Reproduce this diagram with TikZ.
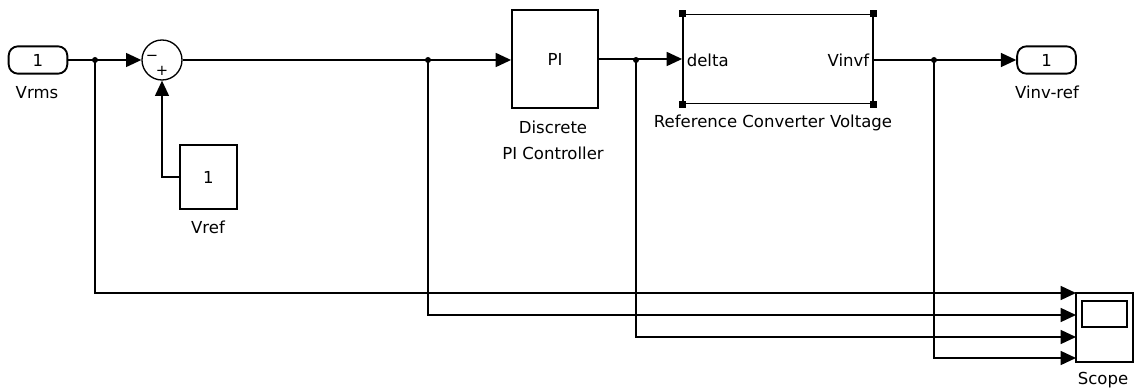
\documentclass[tikz,border=0pt]{standalone}
\usepackage{fontspec}
\setmainfont{DejaVu Sans}
\usetikzlibrary{arrows.meta, calc}

\begin{document}
\begin{tikzpicture}[x=0.75pt, y=-0.75pt, line width=1.1pt,
  font=\fontsize{12.4}{19.5}\selectfont,
  blk/.style={draw, line width=1.4pt, inner sep=0pt},
  port/.style={blk, rounded corners=7pt, minimum width=44pt, minimum height=20.5pt},
  sig/.style={-{Triangle[length=11.5pt, width=10.5pt]}},
  jdot/.style={fill, circle, inner sep=0pt, minimum size=4.5pt},
  lbl/.style={align=center, inner sep=0pt}]

  \useasboundingbox (0,0) rectangle (1136,392);

  % Inport and sum
  \node[port] (vrms) at (38,60) {1};
  \node[lbl] (vrmslbl) at (37,93) {Vrms};
  \node[draw, circle, line width=1pt, minimum size=30pt, inner sep=0pt] (sum) at (162,60) {};
  \node[lbl, font=\fontsize{11}{12}\selectfont] (sgnm) at (152,58) {−};
  \node[lbl, font=\fontsize{11}{12}\selectfont] (sgnp) at (162,71) {+};

  % Reference constant
  \node[blk, minimum width=43pt, minimum height=48pt] (vref) at (208.5,177) {1};
  \node[lbl] (vreflbl) at (208,227) {Vref};

  % Controller
  \node[blk, minimum width=64.5pt, minimum height=73.5pt] (pi) at (555,59) {PI};
  \node[lbl] (pilbl) at (553,140) {Discrete\\PI Controller};

  % Subsystem
  \node[blk, minimum width=142.5pt, minimum height=66.75pt] (ref) at (778,59) {};
  \foreach \c in {north west, north east, south west, south east}
    \fill (ref.\c) ++(-3.5,-3.5) rectangle ++(7,7);
  \node[lbl, anchor=west] (delta) at ($(ref.west)+(4,1)$) {delta};
  \node[lbl, anchor=east] (vinvf) at ($(ref.east)+(-4,1)$) {Vinvf};
  \node[lbl] (reflbl) at (773,123) {Reference Converter Voltage};

  % Outport
  \node[port] (vinv) at (1046.5,60) {1};
  \node[lbl] (vinvlbl) at (1047,92) {Vinv-ref};

  % Scope
  \node[blk, minimum width=43pt, minimum height=52pt] (scope) at (1104.5,327.5) {};
  \draw[line width=1.4pt] ($(scope.north west)+(7,9)$) rectangle ($(scope.north east)+(-7,35)$);
  \node[lbl] (scopelbl) at (1103,380) {Scope};

  % Signals
  \coordinate (j1) at (95,60);
  \coordinate (j2) at (428,60);
  \coordinate (j3) at (636,60);
  \coordinate (j4) at (934,60);
  \draw[sig] (vrms.east) -- (sum.west);
  \draw[sig] (vref.west) -| (sum.south);
  \draw[sig] (sum.east) -- (pi.west |- sum.east);
  \draw[sig] (pi.east) -- (ref.west |- pi.east);
  \draw[sig] (ref.east |- vinv.west) -- (vinv.west);

  \foreach \j/\yy in {j1/293, j2/315, j3/337, j4/358} {
    \coordinate (in-\j) at (1076,\yy);
    \draw[sig] (\j) |- (in-\j);
    \node[jdot] at (\j) {};
  }

\end{tikzpicture}
\end{document}
